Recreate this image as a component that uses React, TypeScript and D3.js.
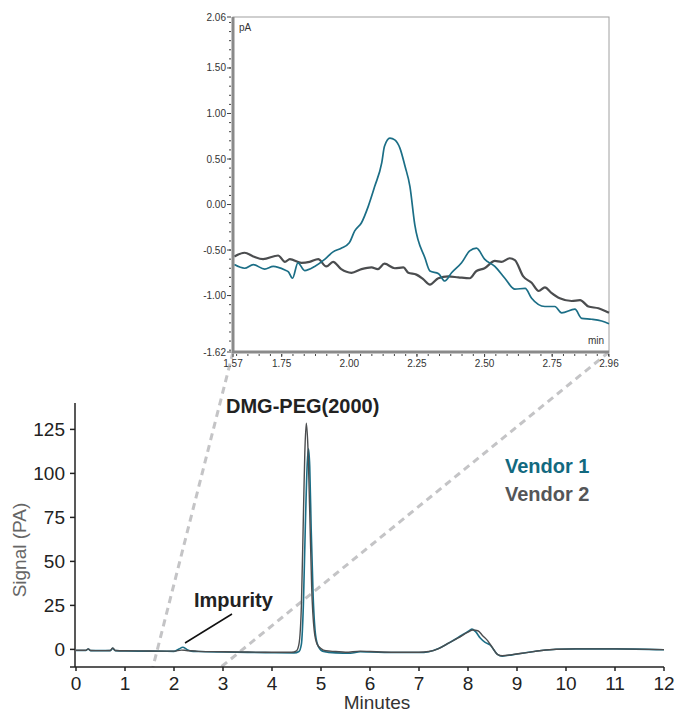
import * as d3 from 'd3'

const FONT = '"Liberation Sans", Arial, Helvetica, sans-serif'
const TEAL = '#1b6e86'
const GRAY = '#4b4d4f'

// main chromatogram: [minutes, signal pA]
const vendor1Main: [number, number][] = [
  [0, -0.6], [0.2, -0.6], [0.25, 0.2], [0.3, -0.7], [0.7, -0.7], [0.75, 0.6], [0.8, -0.7],
  [1.0, -0.9], [1.5, -1.0], [2.0, -1.1], [2.1, 0.2], [2.18, 1.2], [2.26, 0.0], [2.35, -1.0],
  [2.5, -1.2], [3.0, -1.5], [3.5, -1.7], [4.0, -1.9], [4.45, -2.0], [4.55, -1.2], [4.6, 3],
  [4.64, 25], [4.68, 70], [4.72, 106], [4.745, 114], [4.77, 104], [4.8, 68], [4.84, 30],
  [4.89, 8], [4.95, 1.5], [5.05, -1.2], [5.3, -2.0], [5.6, -2.2], [5.8, -1.3], [6.0, -1.5],
  [6.5, -1.8], [7.0, -1.8], [7.2, -1.3], [7.4, 0.5], [7.6, 3.5], [7.8, 6.8], [8.0, 10.2],
  [8.08, 11.5], [8.15, 10.2], [8.25, 6.5], [8.35, 4], [8.45, 2.5], [8.6, -2.8], [8.7, -3.8],
  [8.9, -3.1], [9.2, -1.8], [9.5, -0.6], [9.8, 0.1], [10.2, 0.3], [11, 0.3], [12, -0.2],
]

const vendor2Main: [number, number][] = [
  [0, -0.5], [0.2, -0.5], [0.25, 0.3], [0.3, -0.6], [0.5, -0.7], [0.7, -0.6], [0.75, 0.8],
  [0.8, -0.6], [1.0, -0.8], [1.5, -0.9], [2.0, -1.0], [2.15, -0.4], [2.25, -0.6], [2.5, -1.1],
  [3.0, -1.3], [3.5, -1.5], [4.0, -1.6], [4.4, -1.6], [4.5, -0.8], [4.55, 3], [4.6, 25],
  [4.64, 75], [4.67, 112], [4.7, 128.5], [4.73, 117], [4.77, 78], [4.81, 35], [4.86, 11],
  [4.92, 3], [5.0, 0.5], [5.1, -0.8], [5.3, -1.2], [5.5, -1.6], [5.8, -1.0], [6.0, -1.2],
  [6.5, -1.6], [7.0, -1.6], [7.2, -1.2], [7.4, 0.5], [7.6, 3.5], [7.8, 6.5], [8.0, 9.8],
  [8.1, 11], [8.2, 10.6], [8.3, 7.8], [8.4, 5], [8.5, 1], [8.6, -2.8], [8.7, -3.6],
  [8.9, -3.0], [9.2, -1.8], [9.5, -0.6], [9.8, 0.1], [10.2, 0.3], [11, 0.3], [12, -0.1],
]

// zoomed inset 1.57 - 2.96 min
const vendor1Inset: [number, number][] = [
  [1.575, -0.66], [1.613, -0.7], [1.645, -0.66], [1.687, -0.71], [1.719, -0.68], [1.762, -0.72],
  [1.775, -0.74], [1.79, -0.81], [1.81, -0.64], [1.835, -0.725], [1.872, -0.68], [1.91, -0.6],
  [1.94, -0.52], [1.97, -0.48], [2.0, -0.42], [2.02, -0.29], [2.045, -0.2], [2.07, -0.02],
  [2.094, 0.2], [2.12, 0.46], [2.13, 0.64], [2.15, 0.73], [2.168, 0.71], [2.187, 0.62],
  [2.206, 0.42], [2.224, 0.2], [2.242, -0.22], [2.28, -0.59], [2.298, -0.73], [2.33, -0.76],
  [2.353, -0.84], [2.378, -0.75], [2.415, -0.64], [2.445, -0.51], [2.47, -0.48], [2.5, -0.6],
  [2.538, -0.68], [2.575, -0.81], [2.612, -0.93], [2.65, -0.92], [2.674, -1.03], [2.723, -1.12],
  [2.76, -1.12], [2.785, -1.19], [2.834, -1.15], [2.859, -1.25], [2.896, -1.26], [2.933, -1.28],
  [2.96, -1.31],
]

const vendor2Inset: [number, number][] = [
  [1.575, -0.57], [1.613, -0.53], [1.645, -0.57], [1.681, -0.6], [1.737, -0.56], [1.762, -0.63],
  [1.78, -0.6], [1.823, -0.64], [1.853, -0.63], [1.885, -0.6], [1.915, -0.68], [1.94, -0.63],
  [1.97, -0.71], [2.008, -0.75], [2.045, -0.71], [2.082, -0.69], [2.105, -0.71], [2.13, -0.65],
  [2.168, -0.7], [2.2, -0.69], [2.218, -0.75], [2.248, -0.77], [2.273, -0.82], [2.298, -0.88],
  [2.329, -0.81], [2.366, -0.79], [2.403, -0.8], [2.445, -0.81], [2.47, -0.73], [2.5, -0.7],
  [2.538, -0.62], [2.562, -0.63], [2.593, -0.59], [2.612, -0.61], [2.643, -0.79], [2.674, -0.86],
  [2.7, -0.95], [2.723, -0.91], [2.747, -0.97], [2.778, -1.03], [2.822, -1.06], [2.853, -1.05],
  [2.884, -1.12], [2.921, -1.14], [2.96, -1.19],
]

const mainXTicks = d3.range(0, 13)
const mainYTicks = [0, 25, 50, 75, 100, 125]
const insetXLabels = [1.57, 1.75, 2.0, 2.25, 2.5, 2.75, 2.96]
const insetYLabels = [2.06, 1.5, 1.0, 0.5, 0.0, -0.5, -1.0, -1.62]
const insetRange: [number, number] = [1.57, 2.96]

export default function App() {
  const x = d3.scaleLinear().domain([0, 12]).range([76, 664])
  const y = d3.scaleLinear().domain([-10, 140]).range([667, 403])
  const line = d3
    .line<[number, number]>()
    .x(d => x(d[0]))
    .y(d => y(d[1]))
    .curve(d3.curveMonotoneX)

  const ix = d3.scaleLinear().domain(insetRange).range([233, 609])
  const iy = d3.scaleLinear().domain([-1.62, 2.06]).range([352, 17])
  const iline = d3
    .line<[number, number]>()
    .x(d => ix(d[0]))
    .y(d => iy(d[1]))
    .curve(d3.curveMonotoneX)

  const insetMinorX = d3
    .range(-4, 30)
    .map(i => 1.75 + (i * 0.25) / 6)
    .filter(v => v >= insetRange[0] && v <= insetRange[1])
  const insetMinorY = d3.range(-16, 21).map(i => i / 10)

  return (
    <div style={{ position: 'absolute', left: 0, top: 0 }}>
      <svg width={678} height={713} style={{ display: 'block', fontFamily: FONT }}>
        <rect width={678} height={713} fill="white" />

        {/* connector lines from the inset to the main axis */}
        <g stroke="#c4c4c6" strokeWidth={3} strokeDasharray="7 5" fill="none">
          <line x1={ix(insetRange[0])} y1={352} x2={x(insetRange[0])} y2={667} />
          <line x1={ix(insetRange[1])} y1={352} x2={x(insetRange[1])} y2={667} />
        </g>

        {/* main chart */}
        <path d={line(vendor1Main) ?? ''} fill="none" stroke={TEAL} strokeWidth={1.6} />
        <path d={line(vendor2Main) ?? ''} fill="none" stroke={GRAY} strokeWidth={1.4} />

        <g stroke="#222" strokeWidth={1.5}>
          <line x1={75} y1={y(140)} x2={75} y2={667} />
          <line x1={75} y1={667} x2={664} y2={667} />
          {mainYTicks.map(t => (
            <line key={t} x1={70} x2={75} y1={y(t)} y2={y(t)} />
          ))}
          <line x1={70} x2={75} y1={667} y2={667} />
          {mainXTicks.map(t => (
            <line key={t} x1={x(t)} x2={x(t)} y1={667} y2={671} />
          ))}
        </g>
        <g fill="#222" fontSize={19}>
          {mainYTicks.map(t => (
            <text key={t} x={65} y={y(t)} dy="0.35em" textAnchor="end">
              {t}
            </text>
          ))}
          {mainXTicks.map(t => (
            <text key={t} x={x(t)} y={690} textAnchor="middle">
              {t}
            </text>
          ))}
        </g>
        <text x={377} y={709} textAnchor="middle" fontSize={19} fill="#333">
          Minutes
        </text>
        <text
          transform="translate(26,550) rotate(-90)"
          textAnchor="middle"
          fontSize={19}
          fill="#666"
        >
          Signal (PA)
        </text>

        <text x={226} y={413} fontSize={20} fontWeight="bold" fill="#222">
          DMG-PEG(2000)
        </text>
        <text x={505} y={473} fontSize={20} fontWeight="bold" fill="#12697f">
          Vendor 1
        </text>
        <text x={505} y={501} fontSize={20} fontWeight="bold" fill="#545658">
          Vendor 2
        </text>
        <text x={194} y={607} fontSize={20} fontWeight="bold" fill="#222">
          Impurity
        </text>
        <line x1={185} y1={643} x2={232} y2={614} stroke="#111" strokeWidth={1.5} />

        {/* inset */}
        <rect x={233} y={17} width={376} height={335} fill="white" stroke="#a0a0a0" strokeWidth={1} />
        <path d={iline(vendor2Inset) ?? ''} fill="none" stroke={GRAY} strokeWidth={2.2} />
        <path d={iline(vendor1Inset) ?? ''} fill="none" stroke={TEAL} strokeWidth={1.7} />

        <g stroke="#8a8a8a" strokeWidth={3}>
          <line x1={233} y1={17} x2={233} y2={353} />
          <line x1={232} y1={352} x2={609} y2={352} />
        </g>
        <g stroke="#444" strokeWidth={1}>
          {insetMinorY.map(v => (
            <line key={v} x1={229} x2={231} y1={iy(v)} y2={iy(v)} />
          ))}
          {insetYLabels.map(v => (
            <line key={v} x1={227} x2={231} y1={iy(v)} y2={iy(v)} />
          ))}
          {insetMinorX.map(v => (
            <line key={v} x1={ix(v)} x2={ix(v)} y1={354} y2={356} />
          ))}
          {insetXLabels.map(v => (
            <line key={v} x1={ix(v)} x2={ix(v)} y1={354} y2={357} />
          ))}
        </g>
        <g fill="#333" fontSize={10}>
          {insetYLabels.map(v => (
            <text key={v} x={226} y={iy(v)} dy="0.35em" textAnchor="end">
              {v.toFixed(2)}
            </text>
          ))}
          {insetXLabels.map(v => (
            <text key={v} x={ix(v)} y={367} textAnchor="middle">
              {v.toFixed(2)}
            </text>
          ))}
          <text x={239} y={31}>pA</text>
          <text x={604} y={344} textAnchor="end">min</text>
        </g>
      </svg>
    </div>
  )
}
